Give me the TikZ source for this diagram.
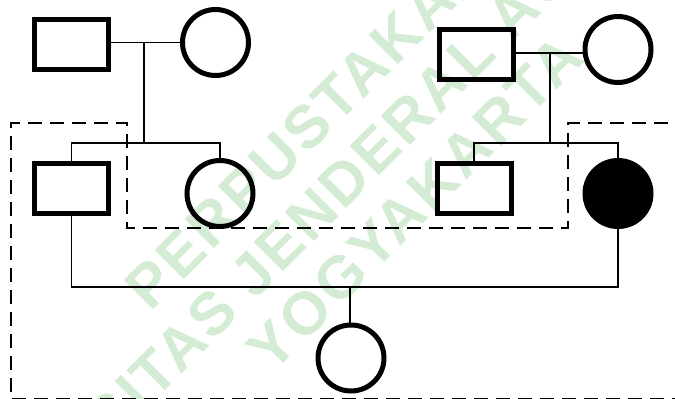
\documentclass[tikz,border=0pt]{standalone}
\usepackage{fontspec}
\newfontfamily\markfont{Liberation Sans}[LetterSpace=5]
\definecolor{wmgreen}{RGB}{212,235,212}
\begin{document}
\begin{tikzpicture}[x=1pt,y=-1pt,
  male/.style={draw, line width=5pt, rectangle, minimum width=74pt, minimum height=50pt, inner sep=0pt},
  female/.style={draw, line width=5pt, circle, minimum size=66pt, inner sep=0pt},
  affected/.style={female, fill=black},
  tie/.style={line width=1.7pt},
  group/.style={line width=2pt, dash pattern=on 14pt off 8pt},
  wmark/.style={text=wmgreen, font=\markfont\bfseries\fontsize{60}{65}\selectfont, align=center, rotate=45}]
\useasboundingbox (0,0) rectangle (675,399);
\begin{scope}
  \clip (0,0) rectangle (675,399);
  % background stamp
  \node[wmark] (wm) at (369,157) {PERPUSTAKAAN\\UNIVERSITAS JENDERAL ACHMAD YANI\\YOGYAKARTA};
  % grouping outline
  \draw[group] (690,123) -- (568,123) -- (568,228) -- (127,228) -- (127,123)
    -- (11,123) -- (11,399.4) -- (690,399.4);
\end{scope}

% individuals
\node[male]     (gf1)   at (71.5,44.5) {};
\node[female]   (gm1)   at (215.5,42.5) {};
\node[male]     (gf2)   at (476,54) {};
\node[female]   (gm2)   at (618,49.5) {};
\node[male]     (fa)    at (71.5,188.5) {};
\node[female]   (aunt)  at (220,193.5) {};
\node[male]     (uncle) at (474,188.5) {};
\node[affected] (mo)    at (618,193.5) {};
\node[female]   (kid)   at (351,358) {};

% junction points of the lines
\coordinate (j1) at (143.7,42.5);
\coordinate (s1) at (143.7,143);
\coordinate (j2) at (550,52.7);
\coordinate (s2) at (550,143);
\coordinate (j3) at (350,287);

% left family
\draw[tie] (gf1.east |- j1) -- (gm1.west |- j1);
\draw[tie] (j1) -- (s1);
\draw[tie] (fa.north) |- (s1) -| (aunt.north);

% right family
\draw[tie] (gf2.east |- j2) -- (gm2.west |- j2);
\draw[tie] (j2) -- (s2);
\draw[tie] (uncle.north) |- (s2) -| (mo.north);

% couple and child
\draw[tie] (fa.south) |- (j3) -| (mo.south);
\draw[tie] (j3) -- (j3 |- kid.north);
\end{tikzpicture}
\end{document}
